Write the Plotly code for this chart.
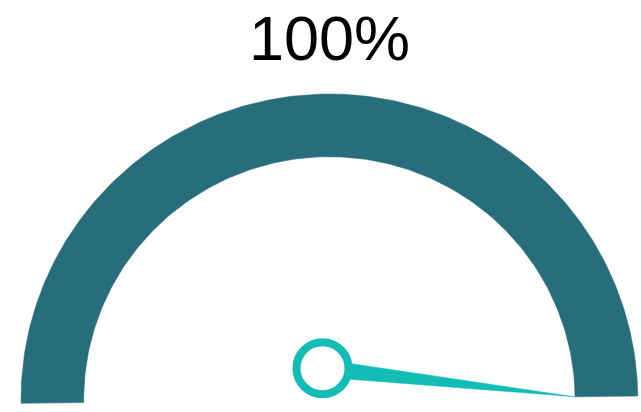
import numpy as np
import plotly.graph_objects as go

# ---- data ----
gauge_value = [100]
gauge_min = [0]
gauge_max = [100]
value_label = ["100%"]

# ---- style / geometry (page pixel space) ----
W, H = 641, 412
CX, CY = 329.4, 399.7
RX_OUT, RY_OUT = 308.4, 305.7
RX_IN, RY_IN = 245.7, 243.0
START_DEG = 180.68
SWEEP_DEG = 180.0
HUB = (322.5, 368.3)
HUB_HALF_W = 8.8
ARC_COLOR = "#286d7b"
NEEDLE_COLOR = "#13bdb5"


def frac(v):
    return (v - gauge_min[0]) / (gauge_max[0] - gauge_min[0])


def ang(v):
    return np.radians(START_DEG - SWEEP_DEG * frac(v))


# arc polygon from min to value
t = np.linspace(ang(gauge_min[0]), ang(gauge_value[0]), 200)
ox = CX + RX_OUT * np.cos(t)
oy = CY - RY_OUT * np.sin(t)
ix = CX + RX_IN * np.cos(t[::-1])
iy = CY - RY_IN * np.sin(t[::-1])
arc_x = np.concatenate([ox, ix, ox[:1]])
arc_y = np.concatenate([oy, iy, oy[:1]])

# needle
tv = ang(gauge_value[0])
tip = (CX + RX_IN * np.cos(tv), CY - RY_IN * np.sin(tv))
dx, dy = tip[0] - HUB[0], tip[1] - HUB[1]
L = np.hypot(dx, dy)
px, py = -dy / L * HUB_HALF_W, dx / L * HUB_HALF_W
needle_x = [HUB[0] + px, tip[0], HUB[0] - px, HUB[0] + px]
needle_y = [HUB[1] + py, tip[1], HUB[1] - py, HUB[1] + py]

fig = go.Figure()
fig.add_trace(go.Scatter(x=arc_x, y=arc_y, mode="lines", fill="toself",
                         fillcolor=ARC_COLOR, line=dict(color=ARC_COLOR, width=0.5),
                         hoverinfo="skip", showlegend=False))
fig.add_trace(go.Scatter(x=needle_x, y=needle_y, mode="lines", fill="toself",
                         fillcolor=NEEDLE_COLOR, line=dict(color=NEEDLE_COLOR, width=0.5),
                         hoverinfo="skip", showlegend=False))
fig.add_trace(go.Scatter(x=[HUB[0]], y=[HUB[1]], mode="markers",
                         marker=dict(size=52, color="white",
                                     line=dict(color=NEEDLE_COLOR, width=8)),
                         hoverinfo="skip", showlegend=False))

fig.add_annotation(x=329, y=37.5, xref="x", yref="y", text=value_label[0],
                   showarrow=False, xanchor="center", yanchor="middle",
                   font=dict(family="Liberation Sans", size=63, color="#000000"))

fig.update_layout(width=W, height=H,
                  margin=dict(l=0, r=0, t=0, b=0),
                  paper_bgcolor="white", plot_bgcolor="white",
                  xaxis=dict(range=[0, W], visible=False, fixedrange=True),
                  yaxis=dict(range=[H, 0], visible=False, fixedrange=True))

fig.write_html("out.html", config={"displayModeBar": False},
               post_script="document.body.style.margin='0';")
